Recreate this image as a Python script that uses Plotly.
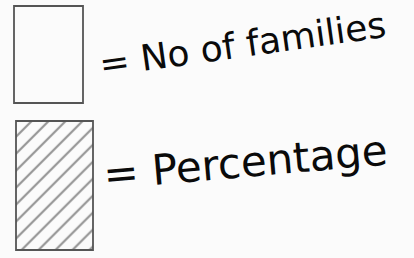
import plotly.graph_objects as go

# Legend entries (hand-drawn key)
labels = ["= No of families", "= Percentage"]
patterns = ["", "/"]

# layout constants (pixel space of the 414x258 canvas)
box_left = [14, 16]
box_right = [83, 93]
box_top = [6, 121]
box_bottom = [103, 250]
text_x = [242, 245]
text_y = [44, 162]
text_size = [36, 42]
text_angle = [-8, -5]

fig = go.Figure()
for i in range(len(labels)):
    fig.add_trace(go.Bar(
        x=[(box_left[i] + box_right[i]) / 2],
        y=[box_bottom[i] - box_top[i]],
        base=[box_top[i]],
        width=[box_right[i] - box_left[i]],
        marker=dict(
            color="rgba(255,255,255,0)",
            line=dict(color="#555555", width=1.8),
            pattern=dict(shape=patterns[i], fgcolor="#2e2e2e", bgcolor="rgba(255,255,255,0)",
                         size=12, solidity=0.18),
        ),
        showlegend=False,
        hoverinfo="skip",
    ))
    fig.add_annotation(
        x=text_x[i], y=text_y[i], text=labels[i], showarrow=False,
        textangle=text_angle[i], xref="x", yref="y",
        font=dict(family="DejaVu Sans", size=text_size[i], color="#0a0a0a"),
    )

fig.update_layout(
    width=414, height=258,
    margin=dict(l=0, r=0, t=0, b=0),
    paper_bgcolor="#fbfbfb", plot_bgcolor="#fbfbfb",
    barmode="overlay",
    xaxis=dict(range=[0, 414], visible=False, fixedrange=True),
    yaxis=dict(range=[258, 0], visible=False, fixedrange=True),
)
# remove the default 8px page margin so the figure fills the window
fig.write_html("out.html", config={"displayModeBar": False},
               post_script="document.body.style.margin='0';")
